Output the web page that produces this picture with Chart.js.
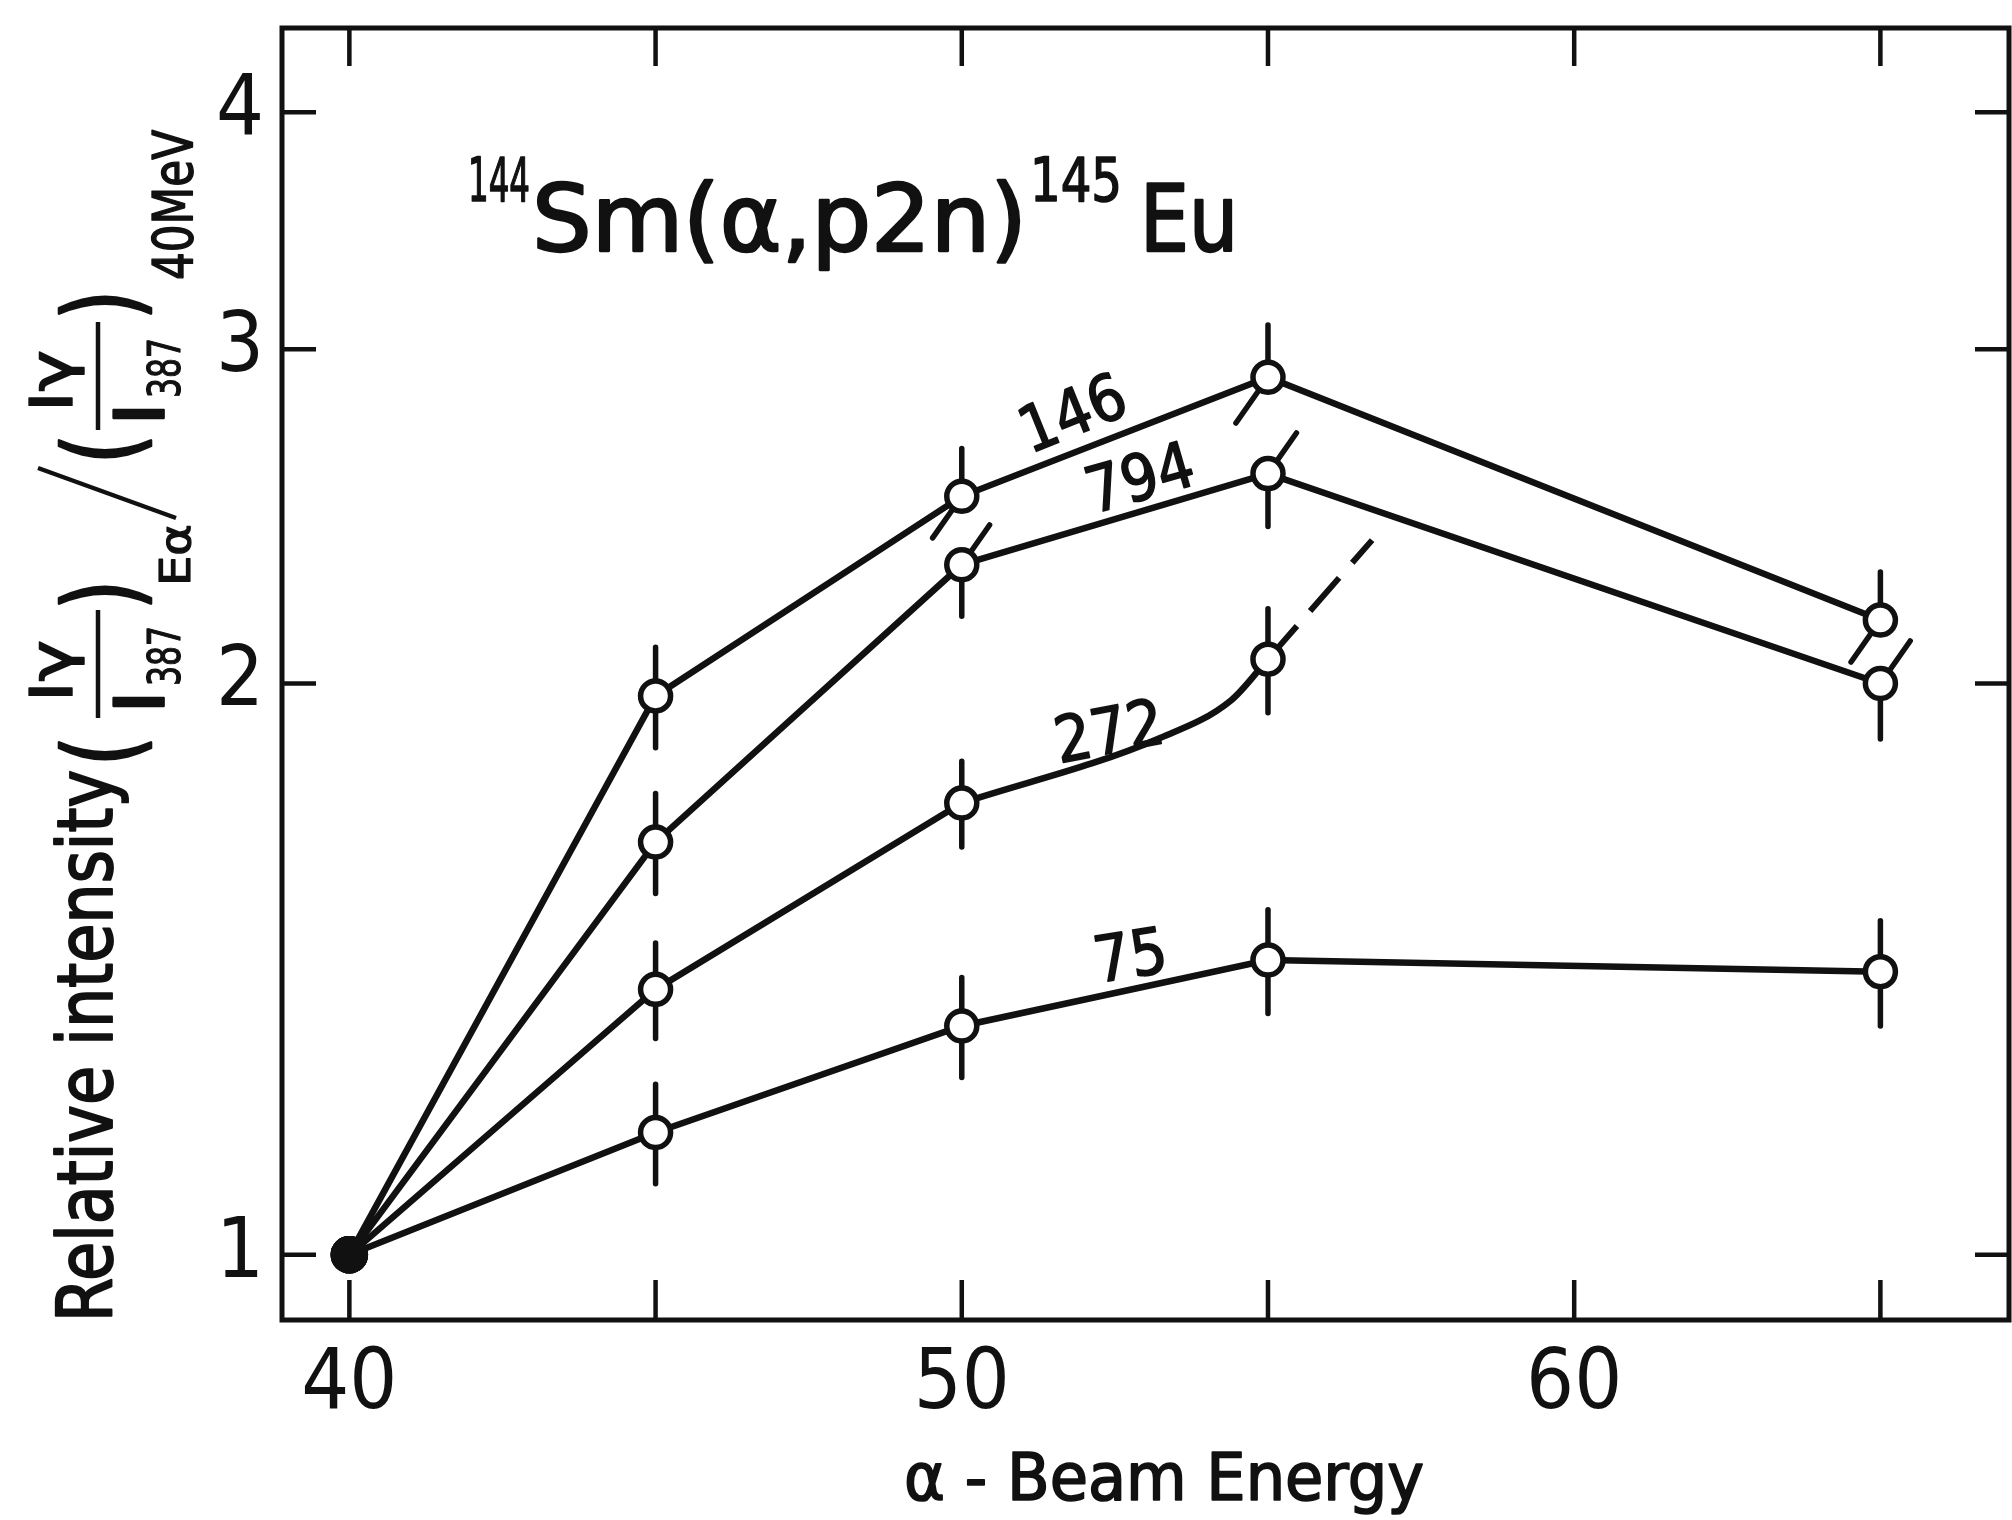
<!DOCTYPE html>
<html>
<head>
<meta charset="utf-8">
<script src="https://cdn.jsdelivr.net/npm/chart.js@4/dist/chart.umd.min.js"></script>
<style>
  html, body { margin: 0; padding: 0; background: #fff; }
  #wrap { width: 2012px; height: 1520px; }
</style>
</head>
<body>
<div id="wrap"><canvas id="chart" width="2012" height="1520"></canvas></div>
<script>
// alpha beam energy (MeV) of the measured points
const energies = [40, 45, 50, 55, 65];
const energies272 = [40, 45, 50, 55];

// relative intensities per gamma line (keV)
const rel146 = [1, 1.97, 2.51, 2.90, 2.16];
const rel794 = [1, 1.65, 2.31, 2.58, 2.00];
const rel272 = [1, 1.38, 1.73, 2.06];
const rel75  = [1, 1.16, 1.32, 1.43, 1.41];

// error bars (half length)
const err146 = [0, 0.12, 0.15, 0.19, 0.13];
const err794 = [0, 0.10, 0.14, 0.16, 0.13];
const err272 = [0, 0.08, 0.09, 0.13];
const err75  = [0, 0.07, 0.08, 0.09, 0.09];

// hand drawn bend of the 272 curve between 50 and 55 MeV, and its dashed continuation
const bend272X = [50, 53.2, 54.4, 55];
const bend272Y = [1.73, 1.87, 1.96, 2.06];
const dash272X = [55, 56.7];
const dash272Y = [2.06, 2.38];

const xTicks = [40, 45, 50, 55, 60, 65];
const xLabels = [40, 50, 60];
const yTicks = [1, 2, 3, 4];

const lineNames = ['146', '794', '272', '75'];
const nameX = [51.8, 52.9, 52.4, 52.75];
const nameY = [2.78, 2.57, 1.89, 1.44];
const nameAngle = [-22, -16, -11, -9];

const FONT = '"Liberation Sans Narrow", "DejaVu Sans Condensed", sans-serif';
const INK = '#111';

const pts = (xs, ys) => xs.map((x, i) => ({ x, y: ys[i] }));

function series(label, xs, ys, errs, tilt) {
  return {
    label, data: pts(xs, ys), errs, tilt,
    borderColor: INK, borderWidth: 6.5, tension: 0,
    pointRadius: c => (c.raw && c.raw.x === 40) ? 16 : 15,
    pointBackgroundColor: c => (c.raw && c.raw.x === 40) ? INK : '#fff',
    pointBorderColor: INK, pointBorderWidth: 5.5,
    order: 1
  };
}

const ds146 = series('146', energies, rel146, err146, 'low');
const ds794 = series('794', energies, rel794, err794, 'high');
const ds272 = series('272', energies272, rel272, err272, null);
ds272.segment = { borderColor: c => c.p0DataIndex === 2 ? 'rgba(0,0,0,0)' : undefined };
const ds75 = series('75', energies, rel75, err75, null);

const bend = {
  label: '272 bend', data: pts(bend272X, bend272Y),
  borderColor: INK, borderWidth: 6.5, cubicInterpolationMode: 'monotone',
  pointRadius: 0, order: 5
};
const dash = {
  label: '272 dash', data: pts(dash272X, dash272Y),
  borderColor: INK, borderWidth: 6, borderDash: [44, 20], pointRadius: 0, order: 5
};

// draw text squeezed to a target width, slightly emboldened
function fitText(ctx, text, x, y, size, width) {
  ctx.font = size + 'px ' + FONT;
  const w = ctx.measureText(text).width;
  ctx.save();
  ctx.translate(x, y);
  if (width) ctx.scale(width / w, 1);
  ctx.lineWidth = Math.max(1.2, size / 40);
  ctx.lineJoin = 'round';
  ctx.fillText(text, 0, 0);
  ctx.strokeText(text, 0, 0);
  ctx.restore();
  return width || w;
}

const errorBars = {
  id: 'errorBars',
  beforeDatasetsDraw(chart) {
    const { ctx, scales: { x, y } } = chart;
    ctx.save();
    ctx.strokeStyle = INK;
    ctx.lineWidth = 5.5;
    ctx.lineCap = 'round';
    chart.data.datasets.forEach(ds => {
      if (!ds.errs) return;
      ds.data.forEach((p, i) => {
        const e = ds.errs[i];
        if (!e) return;
        const px = x.getPixelForValue(p.x);
        const py = y.getPixelForValue(p.y);
        const up = py - y.getPixelForValue(p.y + e);
        const dn = y.getPixelForValue(p.y - e) - py;
        const a = 55 * Math.PI / 180;
        ctx.beginPath();
        ctx.moveTo(px, py);
        if (ds.tilt === 'high' && p.x >= 50) ctx.lineTo(px + Math.cos(a) * up, py - Math.sin(a) * up);
        else ctx.lineTo(px, py - up);
        ctx.moveTo(px, py);
        if (ds.tilt === 'low' && p.x >= 50) ctx.lineTo(px - Math.cos(a) * dn, py + Math.sin(a) * dn);
        else ctx.lineTo(px, py + dn);
        ctx.stroke();
      });
    });
    ctx.restore();
  }
};

const decorations = {
  id: 'decorations',
  afterDraw(chart) {
    const { ctx, chartArea: a, scales: { x, y } } = chart;
    ctx.save();
    ctx.strokeStyle = INK;
    ctx.fillStyle = INK;
    ctx.lineCap = 'butt';

    // frame
    ctx.lineWidth = 5;
    ctx.strokeRect(a.left, a.top, a.right - a.left, a.bottom - a.top);

    // inward ticks on all four sides
    ctx.lineWidth = 4.5;
    ctx.beginPath();
    xTicks.forEach(v => {
      const px = x.getPixelForValue(v);
      ctx.moveTo(px, a.bottom); ctx.lineTo(px, a.bottom - 40);
      ctx.moveTo(px, a.top); ctx.lineTo(px, a.top + 38);
    });
    yTicks.forEach(v => {
      const py = y.getPixelForValue(v);
      ctx.moveTo(a.left, py); ctx.lineTo(a.left + 34, py);
      ctx.moveTo(a.right, py); ctx.lineTo(a.right - 34, py);
    });
    ctx.stroke();

    // gamma line names along the curves
    ctx.textAlign = 'left';
    ctx.textBaseline = 'alphabetic';
    lineNames.forEach((t, i) => {
      const px = x.getPixelForValue(nameX[i]);
      const py = y.getPixelForValue(nameY[i]);
      ctx.save();
      ctx.translate(px, py);
      ctx.rotate(nameAngle[i] * Math.PI / 180);
      ctx.font = '64px ' + FONT;
      const w = ctx.measureText(t).width;
      fitText(ctx, t, -w / 2, 23, 64);
      ctx.restore();
    });

    // reaction title
    const base = 251;
    fitText(ctx, '144', 468, base - 50, 60, 62);
    fitText(ctx, 'Sm(α,p2n)', 532, base, 92, 495);
    fitText(ctx, '145', 1030, base - 50, 60, 92);
    fitText(ctx, 'Eu', 1140, base, 92, 98);

    // x axis title
    fitText(ctx, 'α - Beam Energy', 904, 1500, 66, 520);

    // y axis title, rotated: u runs upwards, v to the right (below the baseline)
    ctx.save();
    ctx.translate(112, 1322);
    ctx.rotate(-Math.PI / 2);
    fitText(ctx, 'Relative intensity', 0, 0, 76, 552);
    fitText(ctx, '(', 556, 26, 104, 30);
    // first ratio
    fitText(ctx, 'Iγ', 620, -40, 58, 62);
    ctx.lineWidth = 4.5;
    ctx.beginPath(); ctx.moveTo(604, -14); ctx.lineTo(712, -14); ctx.stroke();
    fitText(ctx, 'I', 608, 52, 70, 24);
    fitText(ctx, '387', 636, 68, 44, 60);
    fitText(ctx, ')', 712, 26, 104, 30);
    fitText(ctx, 'Eα', 736, 78, 42, 62);
    // division slash
    ctx.lineWidth = 4.5;
    ctx.beginPath(); ctx.moveTo(804, 64); ctx.lineTo(854, -74); ctx.stroke();
    fitText(ctx, '(', 858, 26, 104, 30);
    // second ratio
    fitText(ctx, 'Iγ', 910, -40, 58, 62);
    ctx.lineWidth = 4.5;
    ctx.beginPath(); ctx.moveTo(892, -14); ctx.lineTo(1000, -14); ctx.stroke();
    fitText(ctx, 'I', 896, 52, 70, 24);
    fitText(ctx, '387', 924, 68, 44, 60);
    fitText(ctx, ')', 1002, 26, 104, 30);
    fitText(ctx, '40MeV', 1042, 80, 56, 150);
    ctx.restore();

    ctx.restore();
  }
};

new Chart(document.getElementById('chart'), {
  type: 'scatter',
  data: { datasets: [ds146, ds794, ds272, ds75, bend, dash] },
  options: {
    responsive: false,
    animation: false,
    showLine: true,
    layout: { autoPadding: false, padding: { left: 0, right: 3, top: 28, bottom: 0 } },
    plugins: { legend: { display: false }, tooltip: { enabled: false } },
    scales: {
      x: {
        type: 'linear', min: 38.9, max: 67.1,
        afterBuildTicks: s => { s.ticks = xLabels.map(v => ({ value: v })); },
        afterFit: s => { s.height = 200; s.paddingLeft = 0; s.paddingRight = 0; },
        grid: { display: false, drawTicks: false }, border: { display: false },
        ticks: { color: INK, padding: 16, font: { family: FONT, size: 84 }, maxRotation: 0 }
      },
      y: {
        type: 'logarithmic', min: 0.924, max: 4.43,
        afterBuildTicks: s => { s.ticks = yTicks.map(v => ({ value: v })); },
        afterFit: s => { s.width = 282; s.paddingTop = 0; s.paddingBottom = 0; },
        grid: { display: false, drawTicks: false }, border: { display: false },
        ticks: { color: INK, padding: 18, font: { family: FONT, size: 84 }, callback: v => String(v) }
      }
    }
  },
  plugins: [errorBars, decorations]
});
</script>
</body>
</html>
